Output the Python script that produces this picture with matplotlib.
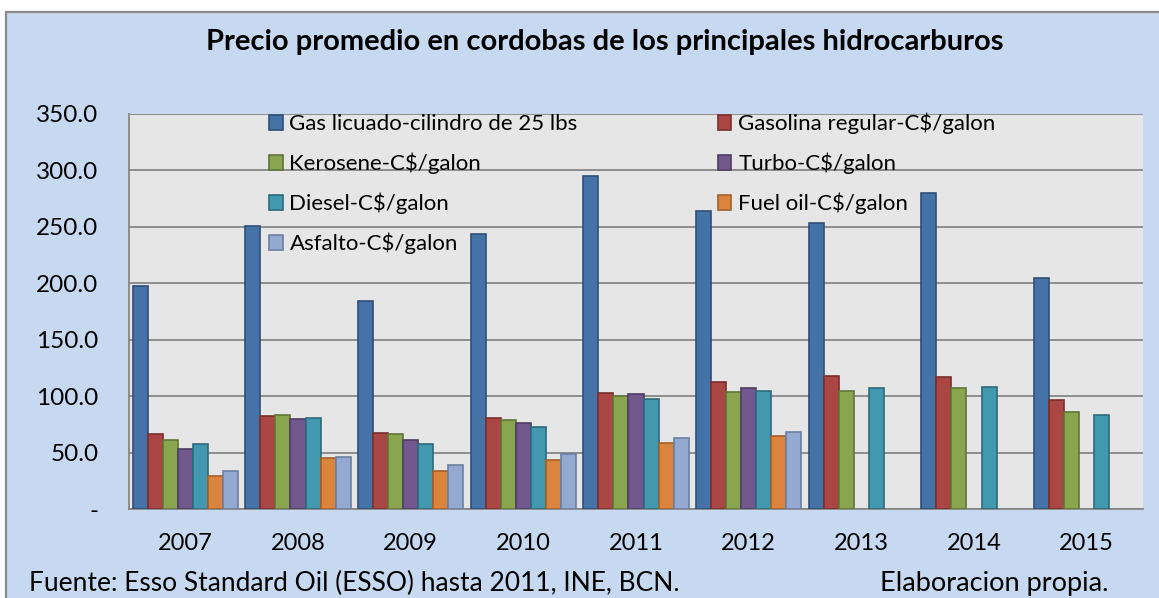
import numpy as np
import matplotlib
matplotlib.use("Agg")
import matplotlib.pyplot as plt
from matplotlib.patches import Rectangle

plt.rcParams['font.family'] = ['Lato', 'DejaVu Sans']

years = ["2007", "2008", "2009", "2010", "2011", "2012", "2013", "2014", "2015"]
series_names = [
    "Gas licuado-cilindro de 25 lbs",
    "Gasolina regular-C$/galon",
    "Kerosene-C$/galon",
    "Turbo-C$/galon",
    "Diesel-C$/galon",
    "Fuel oil-C$/galon",
    "Asfalto-C$/galon",
]
nan = np.nan
gas_licuado = [197.6, 251.0, 184.0, 243.4, 295.0, 263.8, 253.7, 279.7, 205.0]
gasolina = [66.7, 82.7, 67.0, 80.9, 102.5, 112.5, 118.1, 117.2, 96.6]
kerosene = [61.4, 83.6, 66.2, 78.6, 99.8, 103.7, 104.8, 107.5, 86.2]
turbo = [52.9, 80.0, 61.4, 76.2, 101.9, 107.5, nan, nan, nan]
diesel = [57.9, 80.9, 57.9, 73.0, 97.2, 104.3, 106.9, 108.1, 83.0]
fuel_oil = [29.2, 45.5, 34.0, 43.1, 58.8, 65.0, nan, nan, nan]
asfalto = [34.0, 46.1, 38.7, 48.4, 63.2, 68.5, nan, nan, nan]
series = [gas_licuado, gasolina, kerosene, turbo, diesel, fuel_oil, asfalto]

fills = ["#4572A7", "#AA4643", "#89A54E", "#71588F", "#4198AF", "#DB843D", "#93A9CF"]
edges = ["#2F4F78", "#7A302E", "#607538", "#4F3D66", "#2D6B7B", "#A35F2A", "#6A7FA3"]

W, H = 1159, 598
fig = plt.figure(figsize=(W / 100, H / 100), dpi=100, facecolor="white")

# outer chart area
fig.patches.append(Rectangle((6 / W, -0.02), 1.05, (H - 12) / H + 0.02,
                             transform=fig.transFigure, facecolor="#C6D9F1",
                             edgecolor="#8A8A8A", linewidth=1.6, zorder=-5))

ax = fig.add_axes([129 / W, (H - 509) / H, (1143 - 129) / W, (509 - 114) / H])
ax.set_zorder(2)
ax.set_facecolor("#E6E6E6")

x = np.arange(len(years))
bw = 0.1335
handles = []
for i, (vals, c, ec) in enumerate(zip(series, fills, edges)):
    b = ax.bar(x + (i - 3) * bw, vals, width=bw, color=c, edgecolor=ec,
               linewidth=1.2, zorder=3, label=series_names[i])
    handles.append(b)

ax.set_xlim(-0.5, len(years) - 0.5)
ax.set_ylim(0, 350)
yt = np.arange(0, 351, 50)
ax.set_yticks(yt)
ax.set_yticklabels(["-" if v == 0 else f"{v:.1f}" for v in yt])
ax.set_xticks(x)
ax.set_xticklabels(years)
ax.tick_params(axis="y", length=0, pad=22, labelsize=17.5)
ax.tick_params(axis="x", length=0, pad=17, labelsize=17)
ax.grid(axis="y", color="#868686", linewidth=1.3, zorder=1)
ax.set_axisbelow(True)
for s in ["top", "right"]:
    ax.spines[s].set_visible(False)
for s in ["left", "bottom"]:
    ax.spines[s].set_color("#868686")
    ax.spines[s].set_linewidth(1.3)

order = [0, 2, 4, 6, 1, 3, 5]
leg = ax.legend([handles[k] for k in order], [series_names[k] for k in order],
                ncol=2, loc="upper left",
                bbox_to_anchor=(269 / W, (H - 113) / H), bbox_transform=fig.transFigure,
                frameon=False, fontsize=16, handlelength=0.62, handleheight=0.62,
                handletextpad=0.3, labelspacing=0.83, columnspacing=6.3,
                borderpad=0, borderaxespad=0)

fig.text(605 / W, 1 - 42 / H, "Precio promedio en cordobas de los principales hidrocarburos",
         ha="center", va="center", fontsize=21, fontweight="bold")
fig.text(29 / W, 1 - 583 / H, "Fuente: Esso Standard Oil (ESSO) hasta 2011, INE, BCN.",
         ha="left", va="center", fontsize=19)
fig.text(1108 / W, 1 - 583 / H, "Elaboracion propia.",
         ha="right", va="center", fontsize=19.5)

fig.savefig("out.png", dpi=100, facecolor="white")
